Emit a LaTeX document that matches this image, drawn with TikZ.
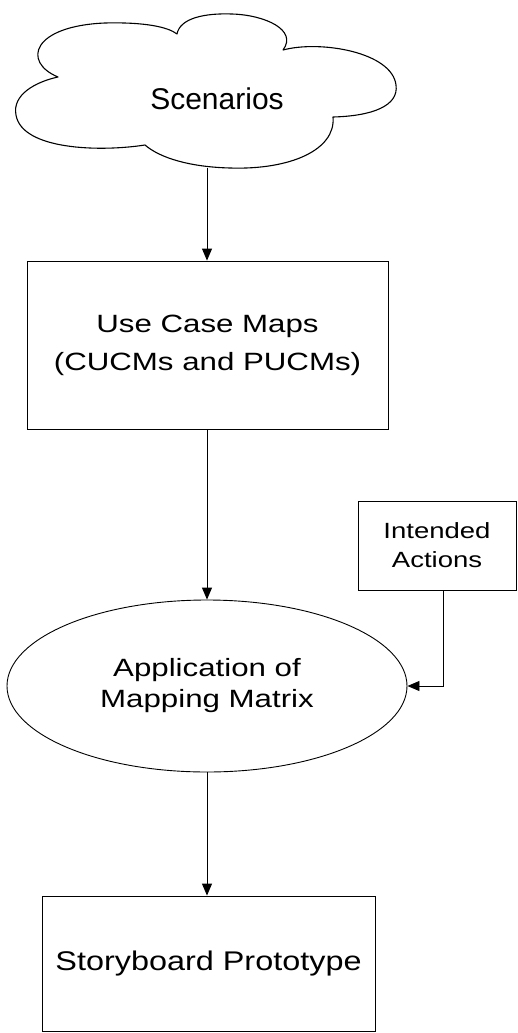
\documentclass[tikz,border=0pt]{standalone}
\usepackage{fontspec}
\setmainfont{Liberation Sans}
\newfontfamily\widefont{Liberation Sans}[FakeStretch=1.25]
\newfontfamily\midfont{Liberation Sans}[FakeStretch=1.2]
\usetikzlibrary{shapes.geometric,arrows.meta,calc}
\begin{document}
\begin{tikzpicture}[x=1pt,y=-1pt,
  line width=0.9pt,
  box/.style={draw, rectangle, inner sep=0pt, align=center},
  oval/.style={draw, ellipse, inner sep=0pt, align=center},
  flow/.style={draw, -{Triangle[length=12pt,width=10pt]}}]
  \useasboundingbox (0,0) rectangle (517,1033);

  % cloud outline, five lobes between the indentations
  \coordinate (cA) at (58,77);
  \coordinate (cB) at (177,34);
  \coordinate (cC) at (283,50);
  \coordinate (cD) at (333,117);
  \coordinate (cE) at (145,145);
  \draw[line width=1.1pt, line join=round]
    (cA) .. controls (22,62) and (32,26) .. (105,23)
         .. controls (145,22) and (168,27) .. (cB)
         .. controls (180,18) and (205,13) .. (232,14)
         .. controls (265,15) and (298,30) .. (cC)
         .. controls (320,40) and (392,52) .. (396,85)
         .. controls (399,106) and (372,116) .. (cD)
         .. controls (336,150) and (290,170) .. (230,168)
         .. controls (190,167) and (160,158) .. (cE)
         .. controls (100,152) and (22,150) .. (16,115)
         .. controls (12,95) and (35,82) .. (cA) -- cycle;
  \node[font=\fontsize{30}{36}\selectfont] (scen) at (217,99) {Scenarios};
  \coordinate (cloudbot) at (207,168);

  \node[box, minimum width=361, minimum height=168,
        font=\fontsize{25}{38}\selectfont\widefont] (ucm) at (207.5,345)
    {Use Case Maps\\(CUCMs and PUCMs)};

  \node[box, minimum width=158, minimum height=89,
        font=\fontsize{22}{29}\selectfont\widefont] (intent) at (437,545.5)
    {Intended\\Actions};
  \coordinate (intentout) at ($(intent.south)+(6,0)$);

  \node[oval, minimum width=400, minimum height=172,
        font=\fontsize{25}{31}\selectfont\widefont] (apply) at (207,686)
    {Application of\\Mapping Matrix};

  \node[box, minimum width=333, minimum height=135,
        font=\fontsize{27}{32}\selectfont\midfont] (story) at (208.5,963.5)
    {Storyboard Prototype};

  \draw[flow] (cloudbot) -- (ucm.north -| cloudbot);
  \draw[flow] (ucm.south -| apply.north) -- (apply.north);
  \draw[flow] (intentout) |- (apply.east);
  \draw[flow] (apply.south) -- (story.north -| apply.south);
\end{tikzpicture}
\end{document}
